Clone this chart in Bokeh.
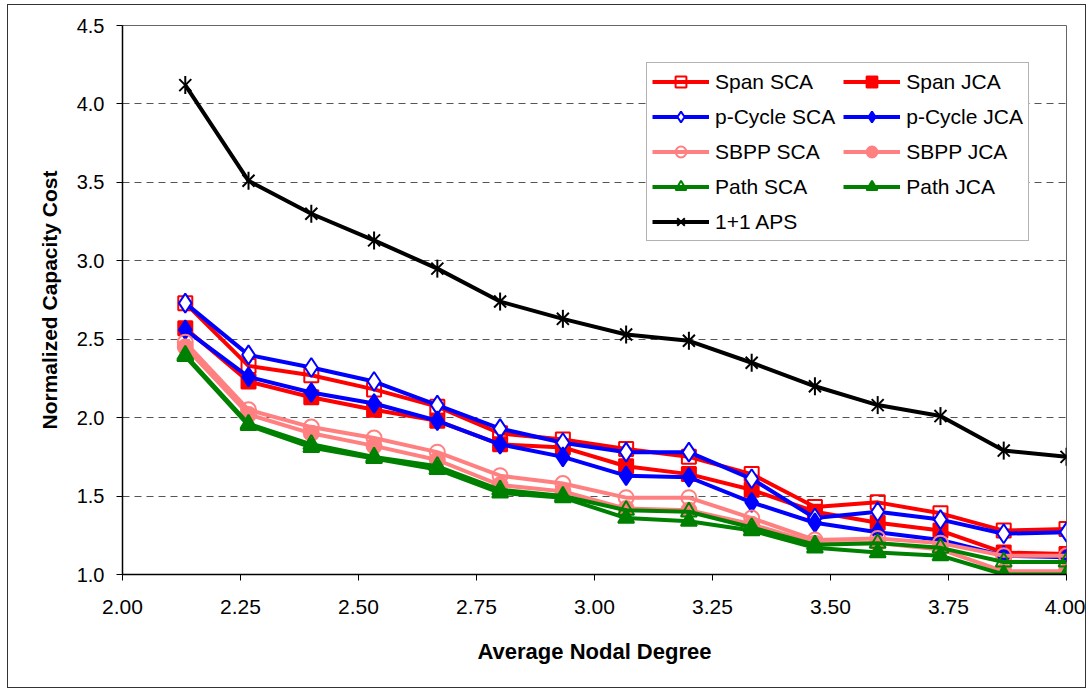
from bokeh.plotting import figure
from bokeh.models import Range1d, FixedTicker, NumeralTickFormatter, Legend, LegendItem
from bokeh.embed import file_html
from bokeh.resources import INLINE
import math

# ---- data ----
degree = [2.133, 2.267, 2.400, 2.533, 2.667, 2.800, 2.933, 3.067, 3.200,
          3.333, 3.467, 3.600, 3.733, 3.867, 4.000]
span_sca = [2.73, 2.33, 2.27, 2.18, 2.07, 1.90, 1.86, 1.80, 1.75, 1.64, 1.43, 1.46, 1.39, 1.28, 1.29]
span_jca = [2.57, 2.23, 2.13, 2.05, 1.98, 1.83, 1.81, 1.69, 1.64, 1.54, 1.40, 1.33, 1.28, 1.14, 1.13]
pcyc_sca = [2.73, 2.40, 2.32, 2.23, 2.08, 1.93, 1.84, 1.78, 1.78, 1.61, 1.36, 1.40, 1.35, 1.26, 1.27]
pcyc_jca = [2.56, 2.26, 2.16, 2.09, 1.98, 1.83, 1.75, 1.63, 1.62, 1.46, 1.33, 1.27, 1.22, 1.12, 1.11]
sbpp_sca = [2.48, 2.05, 1.94, 1.87, 1.78, 1.63, 1.58, 1.49, 1.49, 1.36, 1.22, 1.23, 1.20, 1.12, 1.12]
sbpp_jca = [2.45, 2.02, 1.90, 1.82, 1.73, 1.57, 1.53, 1.42, 1.41, 1.32, 1.20, 1.20, 1.16, 1.02, 1.02]
path_sca = [2.40, 1.96, 1.83, 1.75, 1.69, 1.54, 1.50, 1.41, 1.40, 1.30, 1.19, 1.20, 1.17, 1.08, 1.08]
path_jca = [2.39, 1.95, 1.81, 1.74, 1.67, 1.52, 1.49, 1.36, 1.34, 1.28, 1.17, 1.14, 1.12, 1.00, 1.00]
aps_11 = [4.12, 3.51, 3.30, 3.13, 2.95, 2.74, 2.63, 2.53, 2.49, 2.35, 2.20, 2.08, 2.01, 1.79, 1.75]

series_names = ["Span SCA", "Span JCA", "p-Cycle SCA", "p-Cycle JCA",
                "SBPP SCA", "SBPP JCA", "Path SCA", "Path JCA"]
series_values = [span_sca, span_jca, pcyc_sca, pcyc_jca, sbpp_sca, sbpp_jca, path_sca, path_jca]

x_ticks = [2.0, 2.25, 2.5, 2.75, 3.0, 3.25, 3.5, 3.75, 4.0]
y_ticks = [1.0, 1.5, 2.0, 2.5, 3.0, 3.5, 4.0, 4.5]

# ---- styles ----
colors = ["#FF0000", "#FF0000", "#0000FF", "#0000FF", "#FF8080", "#FF8080", "#008000", "#008000"]
markers = ["square", "square", "diamond", "diamond", "circle", "circle", "triangle", "triangle"]
sizes = [14, 14, 19, 19, 15, 15, 16, 16]
filled = [False, True, False, True, False, True, False, True]
FONT = "Liberation Sans"

p = figure(width=1079, height=684, output_backend="svg", toolbar_location=None,
           x_range=Range1d(2.0, 4.0), y_range=Range1d(1.0, 4.5),
           min_border_left=114, min_border_right=21, min_border_top=20, min_border_bottom=115)
p.styles = {"border": "1px solid #333333", "margin-left": "7px", "margin-top": "4px"}
p.background_fill_color = "white"
p.border_fill_color = "white"
p.outline_line_color = "#666666"
p.outline_line_width = 1

# axes
for ax in (p.xaxis[0], p.yaxis[0]):
    ax.axis_line_color = "black"
    ax.axis_line_width = 1.5
    ax.major_tick_line_color = "black"
    ax.major_tick_out = 6
    ax.major_tick_in = 0
    ax.minor_tick_out = 0
    ax.minor_tick_in = 0
    ax.major_label_text_font = FONT
    ax.major_label_text_color = "black"
    ax.axis_label_text_font = FONT
    ax.axis_label_text_font_style = "bold"
    ax.axis_label_text_color = "black"

p.xaxis.major_label_text_font_size = "21px"
p.yaxis.major_label_text_font_size = "20px"
p.xaxis.axis_label_text_font_size = "22px"
p.yaxis.axis_label_text_font_size = "21px"

p.xaxis.ticker = FixedTicker(ticks=x_ticks)
p.yaxis.ticker = FixedTicker(ticks=y_ticks)
p.xaxis.formatter = NumeralTickFormatter(format="0.00")
p.yaxis.formatter = NumeralTickFormatter(format="0.0")
p.xaxis.axis_label = "Average Nodal Degree"
p.yaxis.axis_label = "Normalized Capacity Cost"
p.xaxis.major_label_standoff = 19
p.xaxis.axis_label_standoff = 22
p.yaxis.major_label_standoff = 12
p.yaxis.axis_label_standoff = 13

p.xgrid.visible = False
p.ygrid.ticker = FixedTicker(ticks=[1.5, 2.0, 2.5, 3.0, 3.5, 4.0])
p.ygrid.grid_line_color = "#555555"
p.ygrid.grid_line_width = 1
p.ygrid.grid_line_dash = "7 5"

items = []
for name, vals, col, mk, sz, fl in zip(series_names, series_values, colors, markers, sizes, filled):
    ln = p.line(degree, vals, line_color=col, line_width=4)
    sc = p.scatter(degree, vals, marker=mk, size=sz, line_color=col, line_width=2,
                   fill_color=col if fl else ("white" if mk == "diamond" else None))
    items.append(LegendItem(label=name, renderers=[ln, sc]))

ln = p.line(degree, aps_11, line_color="black", line_width=4)
s1 = p.scatter(degree, aps_11, marker="x", size=17, line_color="black", line_width=2)
s2 = p.scatter(degree, aps_11, marker="dash", size=18, angle=math.pi / 2,
               line_color="black", line_width=2)
items.append(LegendItem(label="1+1 APS", renderers=[ln, s1, s2]))

legend = Legend(items=items, location=(524, 333), orientation="horizontal", ncols=2)
legend.label_text_font = FONT
legend.label_text_font_size = "21px"
legend.label_text_color = "black"
legend.glyph_width = 57
legend.glyph_height = 27
legend.label_height = 27
legend.label_standoff = 6
legend.spacing = 8
legend.padding = 5
legend.margin = 0
legend.border_line_color = "#666666"
legend.border_line_width = 1
legend.background_fill_color = "white"
legend.background_fill_alpha = 1
p.add_layout(legend, "center")

open("out.html", "w").write(file_html(p, INLINE))
